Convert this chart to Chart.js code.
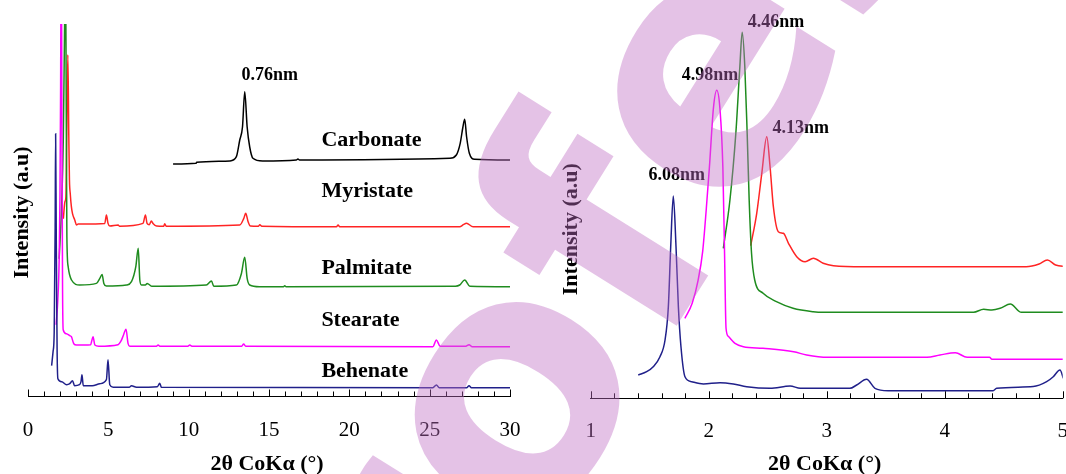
<!DOCTYPE html>
<html>
<head>
<meta charset="utf-8">
<script src="https://cdn.jsdelivr.net/npm/chart.js@4.4.0/dist/chart.umd.min.js"></script>
<style>
  html, body { margin: 0; padding: 0; background: #fff; overflow: hidden; width: 1066px; height: 474px; }
  #panel_wide { position: absolute; left: 0; top: 0; width: 545px; height: 474px; }
  #panel_low { position: absolute; left: 540px; top: 0; width: 560px; height: 474px; }
  #marca { position: absolute; left: 0; top: 0; pointer-events: none; }
</style>
</head>
<body>
<div id="panel_wide"><canvas id="wide"></canvas></div>
<div id="panel_low"><canvas id="low"></canvas></div>
<canvas id="marca" width="1066" height="474"></canvas>
<script>
// [2θ, counts above the trace's own baseline], full scan 0-30°
const behenate_wide = [[1.47, 22], [1.56, 36], [1.63, 55], [1.69, 160], [1.72, 254], [1.76, 150], [1.81, 40], [1.86, 9],
  [2.1, 6], [2.4, 3], [2.6, 4], [2.77, 7], [2.9, 2], [3.2, 3], [3.3, 6], [3.36, 13], [3.44, 2], [4.0, 2], [4.47, 4],
  [4.88, 8], [4.98, 28], [5.09, 3], [5.3, 0.5], [6.3, 0.5], [6.44, 2], [6.75, 0.5], [8.05, 1], [8.2, 4.5], [8.3, 0.5],
  [25.2, 0], [25.42, 2.7], [25.6, 0], [27.3, 0], [27.45, 2], [27.6, 0], [30, 0]]
const stearate_wide = [[1.75, 22], [1.85, 45], [1.94, 87], [1.99, 150], [2.03, 260], [2.07, 420], [2.11, 230], [2.15, 60],
  [2.19, 17], [2.39, 13], [2.6, 11], [2.7, 10], [2.85, 3], [3.02, 1.7], [3.9, 2], [3.97, 6], [4.05, 10], [4.16, 1.7],
  [4.4, 0.5], [5.6, 2], [5.8, 6], [5.95, 12], [6.1, 17.4], [6.23, 3], [6.33, 0.5], [8.0, 0.5], [8.1, 1.7], [8.2, 0.5],
  [9.95, 0.5], [10.07, 1.7], [10.2, 0.5], [13.3, 0.5], [13.42, 2.7], [13.55, 0.5], [25.2, 0], [25.42, 6.7], [25.65, 0.5],
  [27.25, 0.5], [27.45, 2], [27.65, 0], [30, 0]]
const palmitate_wide = [[1.94, 28], [2.09, 80], [2.2, 150], [2.27, 250], [2.33, 340], [2.38, 180], [2.42, 50], [2.5, 20],
  [2.71, 6.7], [3.22, 1.7], [4.26, 3.3], [4.47, 8.3], [4.61, 12.3], [4.72, 3.3], [4.88, 0.7], [6.13, 1.7], [6.44, 5],
  [6.71, 20], [6.86, 38.4], [6.96, 6.7], [7.06, 1.7], [7.3, 1.7], [7.42, 3.3], [7.7, 0.5], [11.1, 1.7], [11.42, 5.7],
  [11.56, 0.5], [12.97, 1.7], [13.28, 13], [13.49, 29.4], [13.64, 8.3], [13.8, 1.7], [14.4, 0], [15.9, 0], [15.98, 1],
  [16.06, 0], [26.6, 0.5], [26.87, 1.7], [27.18, 6.7], [27.5, 0.5], [30, 0]]
const myristate_wide = [[2.2, 8], [2.3, 25], [2.36, 30], [2.42, 100], [2.48, 172], [2.54, 90], [2.58, 46.7], [2.63, 33],
  [2.7, 20], [2.77, 13], [2.91, 6.7], [3.02, 1.7], [3.12, 2.7], [4.78, 3.3], [4.88, 11.7], [4.98, 3.3], [5.09, 0.7],
  [5.61, 1.7], [5.7, 0.5], [7.16, 3.3], [7.31, 11.7], [7.41, 3.3], [7.55, 2], [7.68, 5.7], [7.78, 3.3], [8.0, 0.7],
  [8.45, 0.5], [8.51, 3], [8.6, 0.5], [13.18, 1.7], [13.43, 8.3], [13.55, 13.4], [13.7, 5], [13.84, 0.7], [14.35, 0.5],
  [14.43, 2], [14.55, 0.5], [19.2, 0], [19.3, 1.7], [19.4, 0], [26.87, 0], [27.1, 2], [27.29, 3.4], [27.7, 0], [30, 0]]
const carbonate_wide = [[9.03, -4], [10.45, -3.3], [10.5, -2.3], [12.56, -1], [12.97, 3.3], [13.18, 20], [13.35, 33],
  [13.49, 68.3], [13.64, 33], [13.8, 13], [14.0, 1.7], [14.6, -1], [16.7, 0], [16.8, 1], [16.9, 0], [26.25, 1.7],
  [26.66, 5], [26.9, 16.7], [27.07, 33], [27.18, 40.7], [27.3, 23], [27.47, 6.7], [27.8, 0.7], [30, 0]]

// low-angle scan 1-5°
const behenate_low = [[1.403, 13.3], [1.474, 16.6], [1.53, 21.6], [1.587, 31.6], [1.63, 48.3], [1.658, 81.6],
  [1.678, 141.6], [1.7, 192.3], [1.723, 141.6], [1.743, 81.6], [1.765, 41.6], [1.799, 11.6], [1.856, 6.6], [1.955, 4.3],
  [2.096, 5.6], [2.209, 4.3], [2.322, 1.6], [2.52, 0], [2.69, 2.3], [2.776, 0], [3.197, 0], [3.254, 3.3], [3.338, 9],
  [3.409, 0], [3.52, -2.4], [4.41, -2.4], [4.44, 0], [4.75, 1.7], [4.864, 6.6], [4.92, 11.6], [4.977, 18.3],
  [5.005, 10], [5.03, 0]]
const stearate_low = [[1.798, 40], [1.86, 55], [1.91, 78], [1.949, 107], [1.98, 150], [2.006, 191], [2.04, 250],
  [2.068, 268], [2.095, 250], [2.12, 191], [2.134, 107], [2.147, 30], [2.166, 22], [2.223, 15], [2.294, 11.6],
  [2.46, 10], [2.72, 6.6], [2.83, 3.3], [3.01, 1], [3.85, 1], [3.96, 3.3], [4.09, 5.6], [4.19, 1], [4.38, 1],
  [4.4, -1], [5.03, -1]]
const palmitate_low = [[2.124, 64], [2.18, 112.3], [2.23, 179], [2.264, 245.6], [2.284, 280], [2.306, 245.6],
  [2.326, 179], [2.343, 112.3], [2.363, 59], [2.39, 32.3], [2.461, 19], [2.574, 10.6], [2.715, 4], [2.885, 0.6],
  [2.97, 0], [4.245, 0], [4.33, 3], [4.4, 2.3], [4.47, 4], [4.556, 8.3], [4.65, 0], [5.03, 0]]
const myristate_low = [[2.356, 21], [2.407, 53.4], [2.45, 93.4], [2.492, 130], [2.52, 100], [2.548, 60], [2.59, 35],
  [2.633, 33.4], [2.676, 23.4], [2.746, 10], [2.817, 5], [2.887, 8.4], [2.97, 3.4], [3.057, 1], [3.31, 0], [4.69, 0],
  [4.8, 2.7], [4.87, 6.7], [4.94, 1.7], [5.03, 0]]

const samples = ['Behenate', 'Stearate', 'Palmitate', 'Myristate', 'Carbonate']
// vertical shift of each trace so they stack
const offsets_wide = [8.8, 49.8, 109.8, 169.8, 236.5]
const offsets_low = [10, 40, 86, 131.6]
// d-spacings of the labelled reflections
const d_wide = ['0.76nm']
const d_low = ['6.08nm', '4.98nm', '4.46nm', '4.13nm']

const colors = ['#20208a', '#ff00ff', '#1f8c1f', '#ff2424', '#000000']
const serif = '"Liberation Serif", "Times New Roman", serif'

const toDatasets = (series, offsets) => series.map((s, i) => ({
  label: samples[i],
  data: s.map(p => ({ x: p[0], y: p[1] + offsets[i] })),
  borderColor: colors[i],
  borderWidth: 1.5,
  pointRadius: 0,
  fill: false,
  cubicInterpolationMode: 'monotone'
}))

const isMultiple = (v, step) => Math.abs(v / step - Math.round(v / step)) < 1e-6

// inward ticks, text notes in data units and both axis titles
const decor = (notes, yTitle, major) => ({
  id: 'decor',
  afterDraw(chart) {
    const { ctx, chartArea, scales: { x, y } } = chart
    ctx.save()
    ctx.strokeStyle = '#000'
    ctx.lineWidth = 1
    x.ticks.forEach(t => {
      const px = Math.round(x.getPixelForValue(t.value)) + 0.5
      const len = isMultiple(t.value, major) ? 7 : 5
      ctx.beginPath()
      ctx.moveTo(px, chartArea.bottom)
      ctx.lineTo(px, chartArea.bottom - len)
      ctx.stroke()
    })
    ctx.fillStyle = '#000'
    ctx.textBaseline = 'middle'
    notes.forEach(n => {
      ctx.font = `bold ${n.size}px ${serif}`
      ctx.textAlign = n.align || 'center'
      ctx.fillText(n.text, x.getPixelForValue(n.x), y.getPixelForValue(n.y))
    })
    ctx.font = `bold 22px ${serif}`
    ctx.textAlign = 'center'
    ctx.fillText('2θ CoKα (°)', (chartArea.left + chartArea.right) / 2 - 2, 464)
    ctx.translate(yTitle[0], yTitle[1])
    ctx.rotate(-Math.PI / 2)
    ctx.fillText('Intensity (a.u)', 0, 0)
    ctx.restore()
  }
})

const makeOptions = (min, max, step, major, ymax, pad) => ({
  responsive: true,
  maintainAspectRatio: false,
  animation: false,
  layout: { padding: pad },
  plugins: { legend: { display: false }, tooltip: { enabled: false } },
  scales: {
    x: {
      type: 'linear', min: min, max: max,
      ticks: {
        stepSize: step, autoSkip: false, maxRotation: 0, padding: 21, color: '#000',
        font: { family: serif, size: 21 },
        callback: v => isMultiple(v, major) ? Math.round(v) : ''
      },
      grid: { display: false, drawTicks: false },
      border: { display: true, color: '#000', width: 1 }
    },
    y: { display: false, min: 0, max: ymax }
  }
})

const wide_series = [behenate_wide, stearate_wide, palmitate_wide, myristate_wide, carbonate_wide]
const wide_notes = [
  { text: samples[4], x: 18.26, y: 256.5, size: 22, align: 'left' },
  { text: samples[3], x: 18.26, y: 204.8, size: 22, align: 'left' },
  { text: samples[2], x: 18.26, y: 128.5, size: 22, align: 'left' },
  { text: samples[1], x: 18.26, y: 76.5, size: 22, align: 'left' },
  { text: samples[0], x: 18.26, y: 24.8, size: 22, align: 'left' },
  { text: d_wide[0], x: 15.05, y: 321.5, size: 18 }
]

new Chart(document.getElementById('wide'), {
  type: 'line',
  data: { datasets: toDatasets(wide_series, offsets_wide) },
  options: makeOptions(0, 30, 1, 5, 372.5, { left: 28, right: 35, top: 24, bottom: 10.3 }),
  plugins: [decor(wide_notes, [22, 212.5], 5)]
})

const low_series = [behenate_low, stearate_low, palmitate_low, myristate_low]
const low_notes = [
  { text: d_low[0], x: 1.729, y: 222.6, size: 18 },
  { text: d_low[1], x: 2.011, y: 323.3, size: 18 },
  { text: d_low[2], x: 2.571, y: 375.6, size: 18 },
  { text: d_low[3], x: 2.78, y: 270, size: 18 }
]

new Chart(document.getElementById('low'), {
  type: 'line',
  data: { datasets: toDatasets(low_series, offsets_low) },
  options: makeOptions(1, 5, 0.2, 1, 374.3, { left: 50.7, right: 37.3, top: 24, bottom: 8.5 }),
  plugins: [decor(low_notes, [31, 229.2], 1)]
})

// proof watermark across both panels
const marca = document.getElementById('marca').getContext('2d')
marca.font = 'bold 340px "DejaVu Sans"'
const lead = marca.measureText('Pr').width
const ow = marca.measureText('o').width
marca.translate(515, 405)
marca.rotate(-58 * Math.PI / 180)
marca.fillStyle = 'rgba(190, 110, 195, 0.42)'
marca.textBaseline = 'alphabetic'
marca.fillText('Professional', -(lead + ow / 2), 0.28 * 340)
</script>
</body>
</html>
